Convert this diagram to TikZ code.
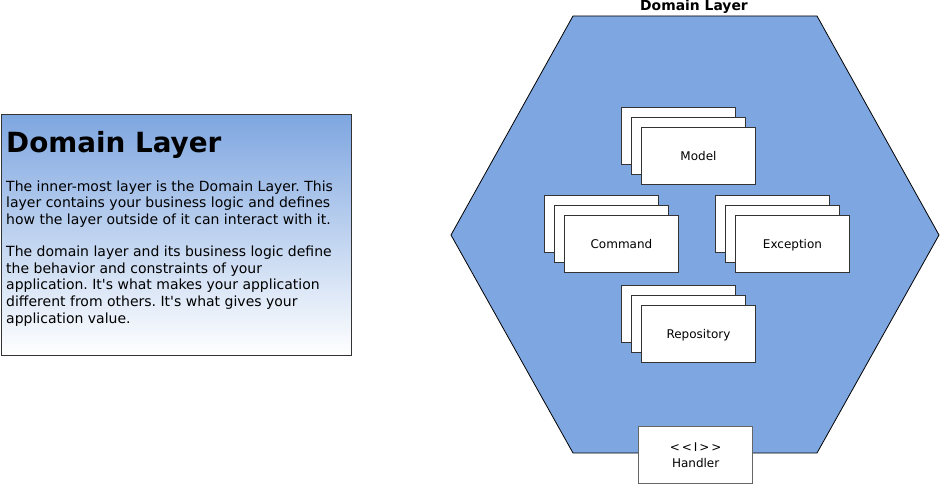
\documentclass[tikz,border=0pt]{standalone}
\usepackage{fontspec}
\setmainfont{DejaVu Sans}[Ligatures=TeXOff]
\frenchspacing
\definecolor{dl}{HTML}{7EA6E0}
\tikzset{
  card/.style={draw=black!80, fill=white, minimum width=114pt, minimum height=57pt,
    inner sep=0pt, anchor=north west, font=\fontsize{12}{15.5}\selectfont, line width=0.9pt,
    text height=11pt, text depth=2pt},
  bodyline/.style={anchor=base west, inner sep=0pt, font=\fontsize{14}{16}\selectfont}
}
\newcommand\cardstack[4]{%
  \node[card] (#1a) at (#2,#3) {};
  \node[card] (#1b) at ([shift={(10,10)}]#1a.north west) {};
  \node[card] (#1) at ([shift={(10,10)}]#1b.north west) {#4};
}
\begin{document}
\begin{tikzpicture}[x=1pt,y=-1pt]
\useasboundingbox (0,0) rectangle (940,484);
% hexagon
\draw[fill=dl, draw=black, line width=0.8pt] (573,16) -- (817,16) -- (939,235) -- (817,453) -- (573,453) -- (451,235) -- cycle;
\node[anchor=base, inner sep=0pt, font=\bfseries\fontsize{13.9}{16}\selectfont] (ttl) at (694,11) {Domain Layer};
% cards
\cardstack{model}{621}{107}{Model}
\cardstack{command}{544}{195}{Command}
\cardstack{exception}{715}{195}{Exception}
\cardstack{repo}{621}{285}{Repository}
\node[card, draw=black!60, line width=1.3pt, align=center, text height=, text depth=] (handler) at (638,426) {<\,<\,I\,>\,>\\Handler};
% info box
\node[draw=black!80, line width=0.8pt, top color=dl, bottom color=white, minimum width=350pt, minimum height=241pt, anchor=north west, inner sep=0pt] (info) at (1,114) {};
\node[anchor=base west, inner sep=0pt, font=\bfseries\fontsize{27.8}{30}\selectfont] (ltitle) at (6,152.7) {Domain Layer};
\node[bodyline] (p1) at (6,191) {The inner-most layer is the Domain Layer. This};
\node[bodyline] (p2) at (6,207.6) {layer contains your business logic and defines};
\node[bodyline] (p3) at (6,224.2) {how the layer outside of it can interact with it.};
\node[bodyline] (q1) at (6,256.7) {The domain layer and its business logic define};
\node[bodyline] (q2) at (6,273.3) {the behavior and constraints of your};
\node[bodyline] (q3) at (6,289.9) {application. It's what makes your application};
\node[bodyline] (q4) at (6,306.5) {different from others. It's what gives your};
\node[bodyline] (q5) at (6,323.1) {application value.};
\end{tikzpicture}
\end{document}
